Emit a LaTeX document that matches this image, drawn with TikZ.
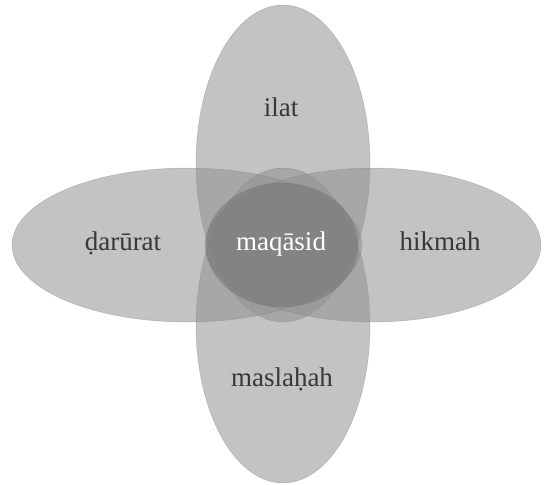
\documentclass[tikz,border=0pt]{standalone}
\usepackage{fontspec}
\setmainfont{Liberation Serif}
\definecolor{petal}{gray}{0.57}
\definecolor{core}{gray}{0.45}
\definecolor{edgeg}{gray}{0.45}
\begin{document}
\begin{tikzpicture}[x=1pt,y=-1pt,
  petalfill/.style={fill=petal,fill opacity=0.55,draw=edgeg,draw opacity=0.35,line width=0.5pt},
  corefill/.style={fill=core,fill opacity=0.5,draw=edgeg,draw opacity=0.35,line width=0.5pt},
  lbl/.style={font=\fontsize{27}{32}\selectfont,text=black!78,anchor=base,inner sep=0pt},
  lblw/.style={lbl,text=white}]
\useasboundingbox (0,0) rectangle (544,485);
% petals
\fill[petalfill] (283,163.5) ellipse [x radius=87pt, y radius=158.5pt];
\fill[petalfill] (283,325.5) ellipse [x radius=87pt, y radius=157.5pt];
\fill[petalfill] (187,245) ellipse [x radius=175pt, y radius=77pt];
\fill[petalfill] (373,245) ellipse [x radius=168pt, y radius=77pt];
% core
\fill[corefill] (282,245) ellipse [x radius=76pt, y radius=62pt];
% labels
\node[lbl] (ilat) at (281,116) {ilat};
\node[lbl] (darurat) at (123,250) {ḍarūrat};
\node[lbl] (hikmah) at (440,250) {hikmah};
\node[lblw] (maqasid) at (281,250) {maqāsid};
\node[lbl] (maslahah) at (282,386) {maslaḥah};
\end{tikzpicture}
\end{document}
